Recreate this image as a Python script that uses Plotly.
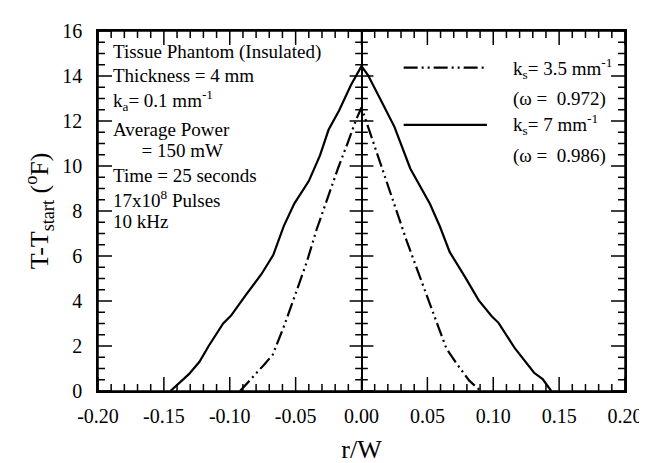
import numpy as np
import plotly.graph_objects as go

# k_s = 3.5 mm^-1 (dash-dot-dot)
r_35 = [-0.0922, -0.0835, -0.0736, -0.0674, -0.0587, -0.050, -0.0414, -0.034, -0.0265,
        -0.0178, -0.0104, -0.0042, 0.0, 0.0074, 0.0149, 0.0248, 0.0347, 0.0446, 0.0545,
        0.0644, 0.0719, 0.0818, 0.0905]
t_35 = [0.0, 0.54, 1.19, 1.61, 2.9, 4.33, 5.76, 7.19, 8.47,
        9.9, 11.04, 12.04, 12.6, 11.31, 10.03, 8.31, 6.6, 5.03, 3.46,
        1.89, 1.24, 0.46, 0.0]

# k_s = 7 mm^-1 (solid)
r_7 = [-0.145, -0.136, -0.131, -0.123, -0.116, -0.105, -0.099, -0.088, -0.076, -0.067,
       -0.059, -0.051, -0.040, -0.0315, -0.025, -0.017, -0.008, 0.0, 0.005, 0.015, 0.025,
       0.037, 0.045, 0.052, 0.0595, 0.067, 0.079, 0.089, 0.099, 0.104, 0.1165, 0.131,
       0.1375, 0.144]
t_7 = [0.0, 0.5, 0.75, 1.3, 2.0, 3.0, 3.35, 4.25, 5.19, 6.04,
       7.33, 8.33, 9.33, 10.47, 11.61, 12.47, 13.6, 14.44, 14.03, 12.89, 11.74,
       9.89, 9.03, 8.31, 7.31, 6.17, 5.03, 4.03, 3.31, 3.03, 1.89, 0.81,
       0.53, 0.0]

x_ticks = [-0.20, -0.15, -0.10, -0.05, 0.00, 0.05, 0.10, 0.15, 0.20]
x_labels = ["-0.20", "-0.15", "-0.10", "-0.05", "0.00", "0.05", "0.10", "0.15", "0.20"]
y_ticks = [0, 2, 4, 6, 8, 10, 12, 14, 16]
x_minor_step = 0.01
y_minor_step = 0.5

info_lines = [
    "Tissue Phantom (Insulated)",
    "Thickness = 4 mm",
    "k<sub>a</sub>= 0.1 mm<sup>-1</sup>",
    "Average Power",
    "      = 150 mW",
    "Time = 25 seconds",
    "17x10<sup>8</sup> Pulses",
    "10 kHz",
]
legend_lines = [
    "k<sub>s</sub>= 3.5 mm<sup>-1</sup>",
    "(ω =  0.972)",
    "k<sub>s</sub>= 7 mm<sup>-1</sup>",
    "(ω =  0.986)",
]

FONT = "Liberation Serif, Times New Roman, serif"
DASHDOT = "14px,4px,2px,4px,2px,4px"
TICKW = 1.5

x0, x1 = x_ticks[0], x_ticks[-1]
y0, y1 = y_ticks[0], y_ticks[-1]

fig = go.Figure()
fig.add_trace(go.Scatter(x=r_35, y=t_35, mode="lines",
                         line=dict(color="black", width=2.2, dash=DASHDOT),
                         showlegend=False))
fig.add_trace(go.Scatter(x=r_7, y=t_7, mode="lines",
                         line=dict(color="black", width=2.2),
                         showlegend=False))


def tick_trace(xs, ys, symbol, size, clip):
    return go.Scatter(x=xs, y=ys, mode="markers", showlegend=False, hoverinfo="skip",
                      cliponaxis=clip,
                      marker=dict(symbol=symbol, size=size, color="black",
                                  line=dict(color="black", width=TICKW)))


# tick positions (major and minor), derived from the tick arrays
y_minor = [float(v) for v in np.arange(y0, y1 + 1e-9, y_minor_step) if v not in y_ticks]
x_minor = [round(float(v), 3) for v in np.arange(x0, x1 + 1e-9, x_minor_step)]
x_minor = [v for v in x_minor if all(abs(v - t) > 1e-9 for t in x_ticks)]

# central axis ticks (cross both sides of x = 0)
fig.add_trace(tick_trace([0] * len(y_minor), y_minor, "line-ew", 9, False))
fig.add_trace(tick_trace([0] * len(y_ticks), y_ticks, "line-ew", 17, False))
# left / right frame ticks (inside only: clipped to plot area)
fig.add_trace(tick_trace([x0] * len(y_minor) + [x1] * len(y_minor), y_minor * 2, "line-ew", 10, True))
fig.add_trace(tick_trace([x0] * len(y_ticks) + [x1] * len(y_ticks), y_ticks * 2, "line-ew", 20, True))
# bottom / top frame ticks
fig.add_trace(tick_trace(x_minor * 2, [y0] * len(x_minor) + [y1] * len(x_minor), "line-ns", 10, True))
fig.add_trace(tick_trace(x_ticks * 2, [y0] * len(x_ticks) + [y1] * len(x_ticks), "line-ns", 20, True))

tickfont = dict(family=FONT, size=20, color="black")

fig.update_layout(
    width=647, height=463,
    margin=dict(l=90, r=19, t=13, b=78),
    paper_bgcolor="white", plot_bgcolor="white",
    font=dict(family=FONT, color="black"),
    xaxis=dict(range=[x0, x1], tickmode="array", tickvals=x_ticks, ticktext=x_labels,
               ticks="", showline=True, linecolor="black", linewidth=1.5, mirror=True,
               showgrid=False, zeroline=True, zerolinecolor="black", zerolinewidth=1.5,
               tickfont=tickfont, ticklabelstandoff=6,
               title=dict(text="r/W", font=dict(family=FONT, size=26), standoff=14)),
    yaxis=dict(range=[y0, y1], tickmode="array", tickvals=y_ticks,
               ticks="", showline=True, linecolor="black", linewidth=1.5, mirror=True,
               showgrid=False, zeroline=False, tickfont=tickfont, ticklabelstandoff=10,
               title=dict(text="T-T<sub>start</sub> (<sup>o</sup>F)", font=dict(family=FONT, size=26),
                          standoff=6)),
)

# frame around the plot area
fig.add_shape(type="rect", xref="paper", yref="paper", x0=0, x1=1, y0=0, y1=1,
              line=dict(color="black", width=1.5), layer="above")

info_y = [0.941, 0.876, 0.806, 0.726, 0.667, 0.599, 0.532, 0.470]
for txt, yy in zip(info_lines, info_y):
    fig.add_annotation(x=0.024, y=yy, xref="paper", yref="paper", text=txt,
                       showarrow=False, xanchor="left", yanchor="middle",
                       font=dict(family=FONT, size=19, color="black"))

leg_y = [0.895, 0.812, 0.739, 0.653]
for txt, yy in zip(legend_lines, leg_y):
    fig.add_annotation(x=0.784, y=yy, xref="paper", yref="paper", text=txt,
                       showarrow=False, xanchor="left", yanchor="middle",
                       font=dict(family=FONT, size=19, color="black"))

# legend sample lines
fig.add_shape(type="line", xref="paper", yref="paper", x0=0.58, x1=0.738, y0=0.898, y1=0.898,
              line=dict(color="black", width=2.2, dash=DASHDOT))
fig.add_shape(type="line", xref="paper", yref="paper", x0=0.58, x1=0.738, y0=0.739, y1=0.739,
              line=dict(color="black", width=2.2))

fig.write_html("out.html")
